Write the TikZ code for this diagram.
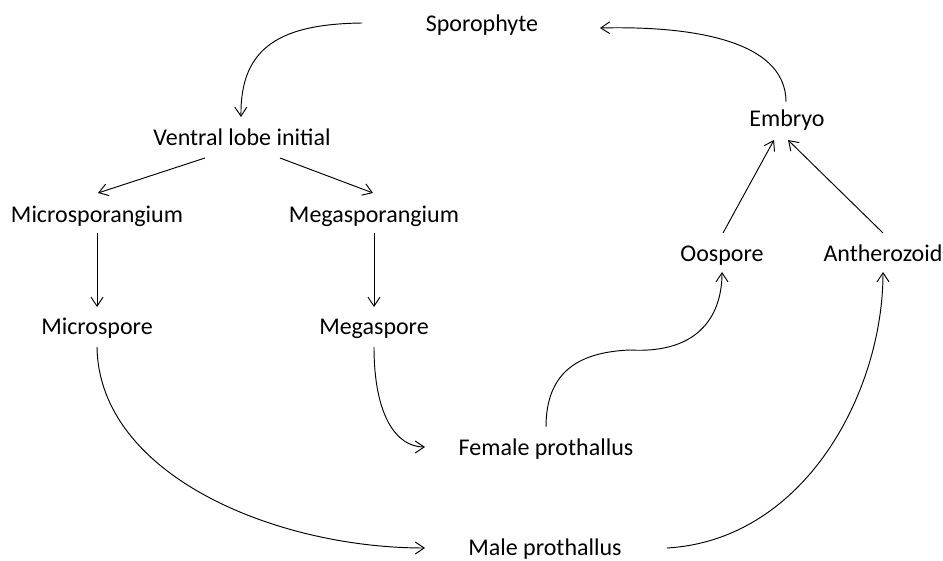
\documentclass[tikz,border=0pt]{standalone}
\usepackage{fontspec}
\setmainfont{Carlito}
\usetikzlibrary{arrows.meta,calc}
\begin{document}
\begin{tikzpicture}[x=1pt,y=-1pt,
  lbl/.style={inner sep=0pt,anchor=base,font=\fontsize{24}{28}\selectfont},
  arr/.style={line width=0.95pt,-{Straight Barb[length=9pt,width=12pt,line width=0.95pt]}}]
\useasboundingbox (0,0) rectangle (943,561);
\node[lbl] (sp) at (482,32) {Sporophyte};
\node[lbl] (vl) at (242,146) {Ventral lobe initial};
\node[lbl] (mi) at (97,223) {Microsporangium};
\node[lbl] (mg) at (374,223) {Megasporangium};
\node[lbl] (ms) at (97,335) {Microspore};
\node[lbl] (mgs) at (374,335) {Megaspore};
\node[lbl] (fp) at (546,455) {Female prothallus};
\node[lbl] (mp) at (545,555) {Male prothallus};
\node[lbl] (em) at (787,127) {Embryo};
\node[lbl] (oo) at (722,262) {Oospore};
\node[lbl] (an) at (883,262) {Antherozoid};

\draw[arr] ($(sp.base)+(-120,-9)$) .. controls ($(sp.base)+(-200,-8)$) and ($(vl.base)+(-2,-100)$) .. ($(vl.base)+(-1,-29)$);
\draw[arr] ($(em.base)+(-1,-25)$) .. controls ($(em.base)+(-1,-90)$) and ($(sp.base)+(200,-6)$) .. ($(sp.base)+(118,-4)$);
\draw[arr] ($(vl.base)+(-37,12)$) -- ($(mi.base)+(1,-30)$);
\draw[arr] ($(vl.base)+(38,12)$) -- ($(mg.base)+(-1,-30)$);
\draw[arr] ($(mi.base)+(0,10)$) -- ($(ms.base)+(0,-28)$);
\draw[arr] ($(mg.base)+(0,10)$) -- ($(mgs.base)+(0,-28)$);
\draw[arr] ($(ms.base)+(0,12)$) .. controls ($(ms.base)+(2,140)$) and ($(mp.base)+(-270,-7)$) .. ($(mp.base)+(-120,-7)$);
\draw[arr] ($(mgs.base)+(0,12)$) .. controls ($(mgs.base)+(0,80)$) and ($(fp.base)+(-150,-8)$) .. ($(fp.base)+(-121,-8)$);
\draw[arr] ($(fp.base)+(0,-28)$) .. controls ($(fp.base)+(0,-85)$) and ($(fp.base)+(35,-103)$) .. ($(fp.base)+(84,-105)$) .. controls ($(oo.base)+(-20,92)$) and ($(oo.base)+(0,50)$) .. ($(oo.base)+(0,10)$);
\draw[arr] ($(mp.base)+(122,-7)$) .. controls ($(mp.base)+(260,-15)$) and ($(an.base)+(0,130)$) .. ($(an.base)+(0,10)$);
\draw[arr] ($(oo.base)+(1,-29)$) -- ($(em.base)+(-13,13)$);
\draw[arr] ($(an.base)+(0,-29)$) -- ($(em.base)+(1,13)$);
\end{tikzpicture}
\end{document}
